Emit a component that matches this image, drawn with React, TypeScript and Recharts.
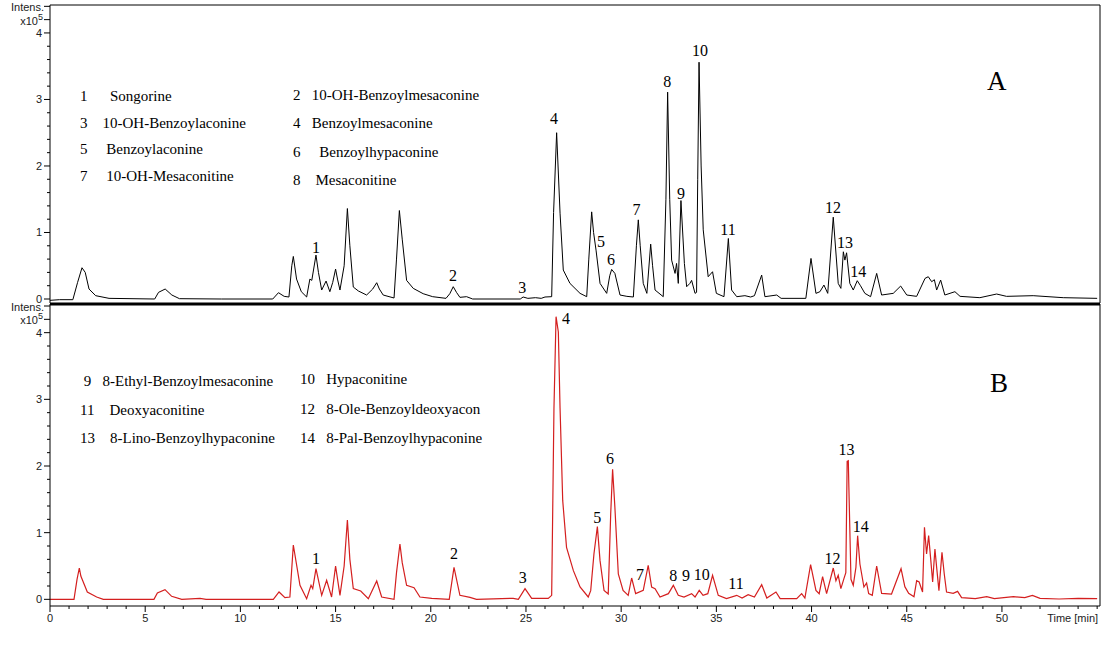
import { LineChart, Line, XAxis, YAxis, ReferenceDot, ReferenceLine } from "recharts";

// chromatogram A (black): [time min, intensity x10^5]
const traceA: [number, number][] = [
  [0, -0.02], [0.5, -0.01], [1.2, -0.01], [1.45, 0.25], [1.68, 0.47], [1.85, 0.4], [2.05, 0.15], [2.4, 0.05],
  [3.1, 0.01], [5.5, 0.0], [5.7, 0.1], [6.05, 0.15], [6.4, 0.06], [6.8, 0.005], [9.0, 0.0], [11.7, 0.0],
  [12.0, 0.095], [12.3, 0.04], [12.55, 0.03], [12.7, 0.5], [12.78, 0.64], [12.95, 0.3], [13.2, 0.11],
  [13.48, 0.03], [13.65, 0.3], [13.75, 0.28], [13.97, 0.66], [14.1, 0.4], [14.27, 0.135], [14.5, 0.27],
  [14.7, 0.11], [14.85, 0.25], [15.0, 0.45], [15.1, 0.3], [15.23, 0.135], [15.45, 0.5], [15.62, 1.36],
  [15.75, 0.8], [15.93, 0.18], [16.2, 0.12], [16.63, 0.06], [16.95, 0.15], [17.16, 0.245], [17.3, 0.15],
  [17.5, 0.06], [18.07, 0.015], [18.2, 0.6], [18.35, 1.33], [18.5, 0.9], [18.73, 0.28], [19.08, 0.16],
  [19.6, 0.08], [20.1, 0.035], [20.8, 0.01], [21.0, 0.08], [21.18, 0.185], [21.35, 0.1], [21.53, 0.025],
  [21.88, 0.035], [22.2, 0.0], [24.7, 0.0], [24.85, 0.03], [25.1, 0.01], [25.5, 0.02], [25.8, 0.01],
  [26.0, 0.03], [26.35, 0.035], [26.45, 1.3], [26.61, 2.5], [26.79, 1.29], [26.96, 0.435], [27.31, 0.235],
  [27.84, 0.085], [28.19, 0.035], [28.3, 0.6], [28.45, 1.31], [28.55, 1.0], [28.68, 0.735], [28.89, 0.235],
  [29.24, 0.085], [29.4, 0.35], [29.5, 0.445], [29.67, 0.385], [29.94, 0.06], [30.3, 0.04], [30.64, 0.03],
  [30.8, 0.8], [30.9, 1.19], [31.0, 0.8], [31.16, 0.235], [31.35, 0.085], [31.55, 0.825], [31.65, 0.5],
  [31.78, 0.135], [32.21, 0.035], [32.35, 1.5], [32.44, 3.11], [32.55, 1.5], [32.65, 0.585], [32.83, 0.385],
  [32.91, 0.535], [33.0, 0.235], [33.14, 1.48], [33.32, 0.535], [33.44, 0.185], [33.61, 0.235], [33.7, 0.28],
  [33.88, 0.085], [33.96, 0.1], [34.02, 1.8], [34.09, 3.56], [34.2, 2.0], [34.31, 1.04], [34.57, 0.335],
  [34.8, 0.41], [35.0, 0.085], [35.4, 0.035], [35.63, 0.91], [35.8, 0.135], [36.07, 0.035], [36.5, 0.05],
  [36.8, 0.03], [37.0, 0.05], [37.38, 0.36], [37.55, 0.035], [38.17, 0.06], [38.4, 0.01], [39.7, 0.01],
  [39.97, 0.61], [40.23, 0.085], [40.44, 0.11], [40.65, 0.21], [40.85, 0.085], [41.14, 1.23], [41.4, 0.235],
  [41.54, 0.16], [41.67, 0.71], [41.75, 0.585], [41.84, 0.695], [42.01, 0.235], [42.19, 0.135], [42.4, 0.275],
  [42.57, 0.2], [42.8, 0.085], [43.1, 0.035], [43.42, 0.385], [43.68, 0.06], [44.29, 0.085], [44.68, 0.195],
  [45.0, 0.06], [45.52, 0.04], [45.96, 0.31], [46.13, 0.335], [46.31, 0.26], [46.45, 0.29], [46.57, 0.135],
  [46.78, 0.285], [47.0, 0.06], [47.53, 0.11], [47.8, 0.04], [48.84, 0.02], [49.72, 0.075], [50.24, 0.04],
  [51.64, 0.05], [53.22, 0.02], [55.0, 0.01],
];

// chromatogram B (red)
const traceB: [number, number][] = [
  [0, 0], [1.26, 0], [1.42, 0.3], [1.54, 0.47], [1.62, 0.35], [1.72, 0.28], [1.96, 0.11], [2.45, 0.035],
  [2.8, 0], [5.46, 0], [5.64, 0.095], [6.04, 0.145], [6.39, 0.045], [6.92, 0], [7.88, 0.015], [8.2, 0],
  [11.73, 0], [12.03, 0.11], [12.34, 0.025], [12.6, 0.035], [12.78, 0.815], [13.13, 0.21], [13.48, 0.01],
  [13.71, 0.21], [13.8, 0.16], [13.97, 0.46], [14.27, 0.06], [14.53, 0.285], [14.79, 0.035], [15.0, 0.5],
  [15.23, 0.06], [15.45, 0.5], [15.62, 1.19], [15.75, 0.6], [15.93, 0.16], [16.32, 0.125], [16.72, 0.01],
  [17.16, 0.275], [17.42, 0.035], [18.07, 0], [18.2, 0.4], [18.38, 0.83], [18.5, 0.55], [18.73, 0.21],
  [19.12, 0.175], [19.43, 0.035], [20.05, 0.015], [20.97, 0], [21.22, 0.48], [21.53, 0.06], [22.06, 0.03],
  [22.4, 0], [24.33, 0.015], [24.6, 0], [24.95, 0.16], [25.3, 0.015], [26.17, 0.015], [26.35, 0.06],
  [26.47, 2.87], [26.58, 4.24], [26.7, 4.01], [26.79, 2.87], [26.93, 1.48], [27.13, 0.78], [27.49, 0.43],
  [27.84, 0.185], [28.27, 0.035], [28.4, 0.13], [28.57, 0.68], [28.75, 1.09], [28.89, 0.58], [29.1, 0.135],
  [29.32, 0.08], [29.45, 1.28], [29.55, 1.95], [29.67, 1.38], [29.85, 0.38], [30.1, 0.135], [30.37, 0.06],
  [30.55, 0.32], [30.76, 0.085], [31.16, 0.135], [31.42, 0.51], [31.6, 0.185], [31.78, 0.16], [32.04, 0.035],
  [32.48, 0.085], [32.74, 0.21], [33.0, 0.06], [33.3, 0.035], [33.7, 0.085], [33.88, 0.035], [34.1, 0.135],
  [34.3, 0.06], [34.55, 0.085], [34.8, 0.36], [35.1, 0.06], [35.53, 0.01], [36.07, 0.06], [36.35, 0.02],
  [36.67, 0.07], [37.0, 0.035], [37.38, 0.22], [37.65, 0.02], [38.13, 0.11], [38.35, 0.01], [39.22, 0.01],
  [39.48, 0.085], [39.65, 0.02], [39.95, 0.52], [40.23, 0.135], [40.4, 0.085], [40.58, 0.34], [40.79, 0.085],
  [41.14, 0.47], [41.28, 0.28], [41.4, 0.36], [41.54, 0.16], [41.7, 0.31], [41.8, 0.4], [41.87, 2.07],
  [41.93, 2.08], [41.96, 1.68], [42.07, 0.3], [42.19, 0.21], [42.33, 0.48], [42.42, 0.955], [42.54, 0.53],
  [42.75, 0.185], [42.89, 0.245], [43.0, 0.085], [43.19, 0.06], [43.42, 0.5], [43.68, 0.09], [44.2, 0.08],
  [44.7, 0.46], [44.9, 0.19], [45.1, 0.09], [45.38, 0.04], [45.52, 0.28], [45.65, 0.26], [45.83, 0.11],
  [45.93, 1.08], [46.04, 0.68], [46.15, 0.955], [46.25, 0.63], [46.36, 0.26], [46.48, 0.755], [46.57, 0.48],
  [46.69, 0.13], [46.85, 0.705], [46.97, 0.38], [47.09, 0.11], [47.44, 0.09], [47.67, 0.12], [47.88, 0.025],
  [48.6, 0.01], [49.2, 0.04], [49.6, 0.01], [50.6, 0.04], [51.2, 0.025], [51.6, 0.06], [52.0, 0.015],
  [53.0, 0.005], [54.0, 0.015], [55.0, 0.01],
];

// peak numbers: [label, time, intensity where the label sits]
const peaksA: [string, number, number][] = [
  ["1", 13.97, 0.78], ["2", 21.17, 0.35], ["3", 24.8, 0.18], ["4", 26.47, 2.72], ["5", 28.94, 0.86],
  ["6", 29.46, 0.6], ["7", 30.8, 1.34], ["8", 32.42, 3.27], ["9", 33.14, 1.59], ["10", 34.14, 3.74],
  ["11", 35.61, 1.04], ["12", 41.12, 1.38], ["13", 41.75, 0.85], ["14", 42.45, 0.42],
];
const peaksB: [string, number, number][] = [
  ["1", 13.97, 0.62], ["2", 21.22, 0.69], ["3", 24.83, 0.33], ["4", 27.1, 4.22], ["5", 28.75, 1.23],
  ["6", 29.41, 2.11], ["7", 30.99, 0.37], ["8", 32.74, 0.36], ["9", 33.4, 0.36], ["10", 34.23, 0.38],
  ["11", 36.03, 0.24], ["12", 41.1, 0.61], ["13", 41.84, 2.25], ["14", 42.58, 1.09],
];

const legendA1 = ["1      Songorine", "3    10-OH-Benzoylaconine", "5     Benzoylaconine", "7     10-OH-Mesaconitine"];
const legendA2 = ["2   10-OH-Benzoylmesaconine", "4   Benzoylmesaconine", "6     Benzoylhypaconine", "8    Mesaconitine"];
const legendB1 = [" 9   8-Ethyl-Benzoylmesaconine", "11    Deoxyaconitine", "13    8-Lino-Benzoylhypaconine"];
const legendB2 = ["10   Hypaconitine", "12   8-Ole-Benzoyldeoxyacon", "14   8-Pal-Benzoylhypaconine"];

const yTicks = [0, 0.2, 0.4, 0.6, 0.8, 1, 1.2, 1.4, 1.6, 1.8, 2, 2.2, 2.4, 2.6, 2.8, 3, 3.2, 3.4, 3.6, 3.8, 4, 4.2, 4.4];
const xTicks = Array.from({ length: 56 }, (_, i) => i);

const X_MAX = 55.15;
const SANS = "'Liberation Sans', Arial, sans-serif";
const SERIF = "'Liberation Serif', 'Times New Roman', serif";

function YTick({ x, y, payload }: any) {
  const v = Math.round(payload.value * 10) / 10;
  const big = Number.isInteger(v) || v > 4;
  return (
    <g>
      <line x1={x - (big ? 6 : 3)} x2={x} y1={y} y2={y} stroke="#000" />
      {v > 4.3 && (
        <text x={x - 6} y={y + 5} textAnchor="end" fontSize={11} fontFamily={SANS} fill="#222">Intens.</text>
      )}
      {v > 4.1 && v < 4.3 && (
        <text x={x - 7} y={y + 5} textAnchor="end" fontSize={11} fontFamily={SANS} fill="#222">
          x10<tspan dy={-5} fontSize={9}>5</tspan>
        </text>
      )}
      {Number.isInteger(v) && (
        <text x={x - 8} y={y + 4} textAnchor="end" fontSize={11} fontFamily={SANS} fill="#222">{v}</text>
      )}
    </g>
  );
}

function XTick({ x, y, payload }: any) {
  const v = payload.value;
  const major = v % 5 === 0 && v <= 50;
  return (
    <g>
      <line x1={x} x2={x} y1={y} y2={y + (major ? 6 : 3)} stroke="#000" />
      {major && (
        <text x={x} y={y + 16} textAnchor="middle" fontSize={11} fontFamily={SANS} fill="#222">{v}</text>
      )}
      {v === 55 && (
        <text x={x + 1} y={y + 16} textAnchor="end" fontSize={11} fontFamily={SANS} fill="#222">Time [min]</text>
      )}
    </g>
  );
}

function PeakLabel(text: string) {
  return (p: any) => (
    <text x={p.cx} y={p.cy} textAnchor="middle" dominantBaseline="central" fontSize={16} fontFamily={SERIF} fill="#000">
      {text}
    </text>
  );
}

function LegendCol({ items, left, top, step }: { items: string[]; left: number; top: number; step: number }) {
  return (
    <>
      {items.map((s, i) => (
        <div
          key={s}
          style={{
            position: "absolute", left, top: top + i * step - 9, lineHeight: "18px",
            fontFamily: SERIF, fontSize: 15, whiteSpace: "pre", color: "#000",
          }}
        >
          {s}
        </div>
      ))}
    </>
  );
}

const toData = (tr: [number, number][]) => tr.map(([t, i]) => ({ t, i }));

export default function App() {
  return (
    <div style={{ position: "absolute", left: 0, top: 0, width: 1115, height: 652, background: "#fff", overflow: "hidden" }}>
      <div style={{ position: "absolute", left: 0, top: 0 }}>
        <LineChart width={1115} height={306} data={toData(traceA)} margin={{ top: 5, right: 15, left: 0, bottom: 3 }}>
          <XAxis dataKey="t" type="number" domain={[0, X_MAX]} allowDataOverflow hide />
          <YAxis type="number" domain={[-0.06, 4.42]} allowDataOverflow ticks={yTicks} interval={0} width={50}
            tickSize={0} tickMargin={0} tick={YTick} axisLine={{ stroke: "#000" }} />
          <ReferenceLine y={4.42} stroke="#000" strokeWidth={1} />
          <ReferenceLine x={X_MAX} stroke="#000" strokeWidth={1} />
          <Line type="linear" dataKey="i" stroke="#000" strokeWidth={1} dot={false} isAnimationActive={false} />
          {peaksA.map(([n, t, v]) => (
            <ReferenceDot key={n} x={t} y={v} r={0} shape={PeakLabel(n)} />
          ))}
        </LineChart>
      </div>
      <div style={{ position: "absolute", left: 0, top: 300 }}>
        <LineChart width={1115} height={352} data={toData(traceB)} margin={{ top: 4, right: 15, left: 0, bottom: 16 }}>
          <XAxis dataKey="t" type="number" domain={[0, X_MAX]} allowDataOverflow ticks={xTicks} interval={0} height={30}
            tickSize={0} tickMargin={0} tick={XTick} axisLine={{ stroke: "#000" }} />
          <YAxis type="number" domain={[-0.1, 4.43]} allowDataOverflow ticks={yTicks} interval={0} width={50}
            tickSize={0} tickMargin={0} tick={YTick} axisLine={{ stroke: "#000" }} />
          <ReferenceLine y={4.43} stroke="#000" strokeWidth={3} />
          <ReferenceLine x={X_MAX} stroke="#000" strokeWidth={1} />
          <Line type="linear" dataKey="i" stroke="#d41f1f" strokeWidth={1.2} dot={false} isAnimationActive={false} />
          {peaksB.map(([n, t, v]) => (
            <ReferenceDot key={n} x={t} y={v} r={0} shape={PeakLabel(n)} />
          ))}
        </LineChart>
      </div>
      <LegendCol items={legendA1} left={80} top={96} step={26.7} />
      <LegendCol items={legendA2} left={293} top={95} step={28.3} />
      <LegendCol items={legendB1} left={80} top={381} step={28.5} />
      <LegendCol items={legendB2} left={300} top={379} step={29.5} />
      <div style={{ position: "absolute", left: 987, top: 66, fontFamily: SERIF, fontSize: 27 }}>A</div>
      <div style={{ position: "absolute", left: 990, top: 368, fontFamily: SERIF, fontSize: 27 }}>B</div>
    </div>
  );
}
